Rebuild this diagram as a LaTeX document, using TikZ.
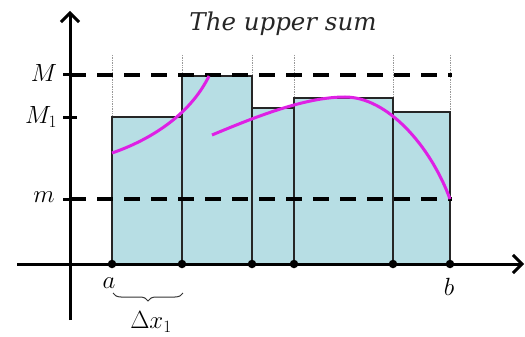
\documentclass[tikz,border=0pt]{standalone}
\usepackage{fontspec}
\newfontfamily\titlefont{DejaVu Serif}
\usetikzlibrary{decorations.pathreplacing,arrows.meta}
\definecolor{fillc}{RGB}{183,222,228}
\definecolor{curvec}{RGB}{222,32,228}
\begin{document}
\begin{tikzpicture}[x=1pt,y=-1pt,
  axisline/.style={line width=3pt,-{Straight Barb[length=9pt,width=18pt,line width=3pt]}},
  bar/.style={fill=fillc,draw=black!85,line width=1.8pt},
  guide/.style={densely dotted,draw=black!40,line width=0.7pt},
  level/.style={line width=3.3pt,dash pattern=on 16pt off 11pt},
  fcurve/.style={curvec,line width=3pt},
  pdot/.style={circle,fill=black,inner sep=0pt,minimum size=8.5pt},
  lab/.style={font=\fontsize{25}{28}\selectfont},
  tick/.style={line width=3pt}]
\useasboundingbox (0,0) rectangle (525,337);
% partition points
\coordinate (x0) at (112,264);
\coordinate (x1) at (182,264);
\coordinate (x2) at (252,264);
\coordinate (x3) at (294,264);
\coordinate (x4) at (393,264);
\coordinate (x5) at (450,264);
% guides
\draw[guide] (112,55) -- (112,117);
\draw[guide] (182,55) -- (182,76);
\draw[guide] (252,55) -- (252,108);
\draw[guide] (294,55) -- (294,98);
\draw[guide] (393,55) -- (393,98);
\draw[guide] (450,55) -- (450,112);
% bars
\draw[bar] (112,264) rectangle (182,117);
\draw[bar] (182,264) rectangle (252,76);
\draw[bar] (252,264) rectangle (294,108);
\draw[bar] (294,264) rectangle (393,98);
\draw[bar] (393,264) rectangle (450,112);
% levels
\coordinate (yM) at (70,75);
\coordinate (yM1) at (70,117);
\coordinate (ym) at (70,199);
\coordinate (eM) at (452,75);
\coordinate (em) at (452,199);
\draw[level] (yM) -- (eM);
\draw[level] (ym) -- (em);
% curves
\draw[fcurve] (112,153) .. controls (150,140) and (190,115) .. (209,76);
\draw[fcurve] (212,135) .. controls (255,117) and (305,97) .. (345,97)
  .. controls (387,97) and (430,145) .. (450,199);
% axes
\coordinate (xs) at (17,264);
\coordinate (xe) at (524,264);
\coordinate (ys) at (70,320);
\coordinate (ye) at (70,11);
\draw[axisline] (xs) -- (xe);
\draw[axisline] (ys) -- (ye);
% ticks
\draw[tick] (63,75) -- (77,75);
\draw[tick] (63,117) -- (77,117);
\draw[tick] (63,199) -- (77,199);
% dots
\foreach \i in {0,...,5} \node[pdot] (d\i) at (x\i) {};
% labels
\node[lab] (lM) at (44,73) {$M$};
\node[lab] (lM1) at (41,117) {$M_1$};
\node[lab] (lm) at (44,197) {$m$};
\node[lab] (la) at (109,283) {$a$};
\node[lab] (lb) at (449,287) {$b$};
\draw[decorate,decoration={brace,mirror,amplitude=8pt},line width=1pt,black!80] (113,293) -- (183,293);
\node[lab] (ldx) at (151,322) {$\Delta x_1$};
\node[font=\fontsize{24.5}{28}\selectfont\titlefont\itshape,text=black!85,anchor=base] (title) at (283,31) {The upper sum};
\end{tikzpicture}
\end{document}
